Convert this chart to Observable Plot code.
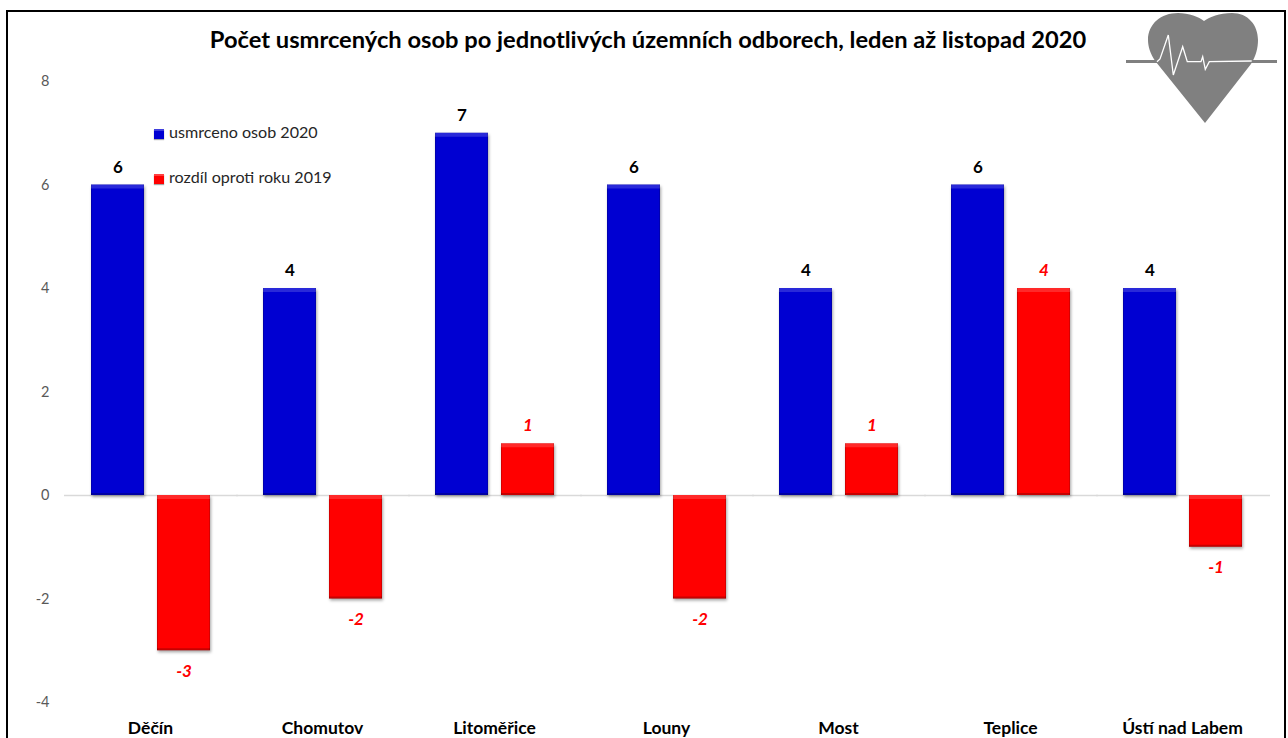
<!DOCTYPE html>
<html lang="cs">
<head>
<meta charset="utf-8">
<script src="https://cdn.jsdelivr.net/npm/d3@7"></script>
<script src="https://cdn.jsdelivr.net/npm/@observablehq/plot@0.6"></script>
<style>
  html, body { margin: 0; padding: 0; background: #fff; overflow: hidden; }
  #stage { position: relative; width: 1288px; height: 738px; font-family: Lato, sans-serif; }
  #stage > div#plot { position: absolute; left: 0; top: 0; }
  #frame { position: absolute; left: 6px; top: 10px; width: 1276px; height: 740px; border: 2px solid #000; box-sizing: content-box; border-bottom: 0; pointer-events: none; }
  #title { position: absolute; left: 0; width: 1296px; top: 25px; text-align: center; font-weight: 700; font-size: 23.7px; line-height: 28px; color: #000; white-space: nowrap; }
  #heart { position: absolute; left: 1126px; top: 12px; }
  .legend { position: absolute; left: 154px; font-size: 16.1px; line-height: 20px; color: #262626; white-space: nowrap; }
  .legend i { display: inline-block; width: 10px; height: 10px; margin-right: 5px; vertical-align: -0.5px; box-shadow: inset 0 2px 0 rgba(255,255,255,.25), 0 1px 1px rgba(0,0,0,.35); }
  .bars rect { filter: url(#bevel); }
</style>
</head>
<body>
<div id="stage">
  <svg width="0" height="0" style="position:absolute">
    <defs>
      <filter id="bevel" x="-15%" y="-15%" width="130%" height="130%" color-interpolation-filters="sRGB">
        <feOffset in="SourceAlpha" dx="0" dy="4" result="down"/>
        <feComposite in="SourceAlpha" in2="down" operator="out" result="topBand"/>
        <feFlood flood-color="#fff" flood-opacity="0.16"/>
        <feComposite in2="topBand" operator="in" result="topLight"/>
        <feOffset in="SourceAlpha" dx="0" dy="-2" result="up"/>
        <feComposite in="SourceAlpha" in2="up" operator="out" result="botBand"/>
        <feFlood flood-color="#000" flood-opacity="0.22"/>
        <feComposite in2="botBand" operator="in" result="botDark"/>
        <feOffset in="SourceAlpha" dx="1" dy="0" result="right"/>
        <feComposite in="SourceAlpha" in2="right" operator="out" result="leftBand"/>
        <feOffset in="SourceAlpha" dx="-1" dy="0" result="left"/>
        <feComposite in="SourceAlpha" in2="left" operator="out" result="rightBand"/>
        <feMerge result="sideBands">
          <feMergeNode in="leftBand"/>
          <feMergeNode in="rightBand"/>
        </feMerge>
        <feFlood flood-color="#000" flood-opacity="0.16"/>
        <feComposite in2="sideBands" operator="in" result="sideDark"/>
        <feGaussianBlur in="SourceAlpha" stdDeviation="1.5" result="blur"/>
        <feOffset in="blur" dx="1" dy="2" result="shOff"/>
        <feFlood flood-color="#000" flood-opacity="0.35"/>
        <feComposite in2="shOff" operator="in" result="shadow"/>
        <feMerge>
          <feMergeNode in="shadow"/>
          <feMergeNode in="SourceGraphic"/>
          <feMergeNode in="sideDark"/>
          <feMergeNode in="topLight"/>
          <feMergeNode in="botDark"/>
        </feMerge>
      </filter>
    </defs>
  </svg>
  <div id="plot"></div>
  <div id="frame"></div>
  <div id="title">Počet usmrcených osob po jednotlivých územních odborech, leden až listopad 2020</div>
  <div class="legend" style="top:122px"><i style="background:#0000d2"></i>usmrceno osob 2020</div>
  <div class="legend" style="top:167px"><i style="background:#ff0000"></i>rozdíl oproti roku 2019</div>
  <svg id="heart" width="160" height="114" viewBox="0 0 160 114">
    <path d="M79 111 L30 50 C24 42 22 34 22 28 C22 12 35 1 52 1 C63 1 73 5 78 9 C84 5 93 1 106 1 C122 1 132 13 132 28 C132 36 130 44 125 52 Z" fill="#808080"/>
    <rect x="0" y="48" width="151" height="3" fill="#808080"/>
    <path d="M31 49.7 L34 47 L42.3 23 L47.3 63 L56.7 34.7 L61.3 49.7 L75 49.7 L76.7 44.7 L79.3 57.3 L83.3 49.7 L125.7 49" fill="none" stroke="#fff" stroke-width="1.3"/>
  </svg>
</div>
<script>
const categories = ["Děčín", "Chomutov", "Litoměřice", "Louny", "Most", "Teplice", "Ústí nad Labem"];
const deaths2020 = [6, 4, 7, 6, 4, 6, 4];
const diff2019 = [-3, -2, 1, -2, 1, 4, -1];
const seriesNames = ["usmrceno osob 2020", "rozdíl oproti roku 2019"];
const seriesColors = ["#0000d2", "#ff0000"];
const yTicks = [-4, -2, 0, 2, 4, 6, 8];

const rows = categories.flatMap((c, i) => [
  {category: c, series: seriesNames[0], value: deaths2020[i]},
  {category: c, series: seriesNames[1], value: diff2019[i]}
]);
const blue = rows.filter(d => d.series === seriesNames[0]);
const red = rows.filter(d => d.series === seriesNames[1]);

const chart = Plot.plot({
  width: 1288,
  height: 738,
  marginLeft: 64,
  marginRight: 20,
  marginTop: 81,
  marginBottom: 36,
  style: {background: "transparent", fontFamily: "Lato, sans-serif", overflow: "visible"},
  fx: {domain: categories, padding: 0, label: null, axis: null},
  x: {domain: seriesNames, paddingInner: 0.197, paddingOuter: 0.4, axis: null},
  y: {domain: [-4, 8], label: null, axis: null},
  color: {domain: seriesNames, range: seriesColors},
  marks: [
    Plot.ruleY([0], {stroke: "#d9d9d9", strokeWidth: 1.5, insetRight: -2}),
    Plot.axisY({ticks: yTicks, tickSize: 0, tickPadding: 0, anchor: "left", label: null, fontSize: 14.5, color: "#595959", dx: -15, textAnchor: "end", tickFormat: d => String(d)}),
    Plot.barY(rows, {fx: "category", x: "series", y: "value", fill: "series", className: "bars"}),
    Plot.text(blue, {fx: "category", x: "series", y: "value", text: "value", dy: -17.5, fontSize: 17, fontWeight: 700, fill: "#000"}),
    Plot.text(red.filter(d => d.value > 0), {fx: "category", x: "series", y: "value", text: "value", dy: -18, fontSize: 17, fontWeight: 700, fontStyle: "italic", fill: "#ff0000"}),
    Plot.text(red.filter(d => d.value < 0), {fx: "category", x: "series", y: "value", text: "value", dy: 20.5, fontSize: 17, fontWeight: 700, fontStyle: "italic", fill: "#ff0000"}),
    Plot.axisFx({anchor: "bottom", tickSize: 0, tickPadding: 0, label: null, fontSize: 17.5, fontWeight: 700, color: "#000", dy: 19})
  ]
});
document.getElementById("plot").append(chart);
</script>
</body>
</html>
